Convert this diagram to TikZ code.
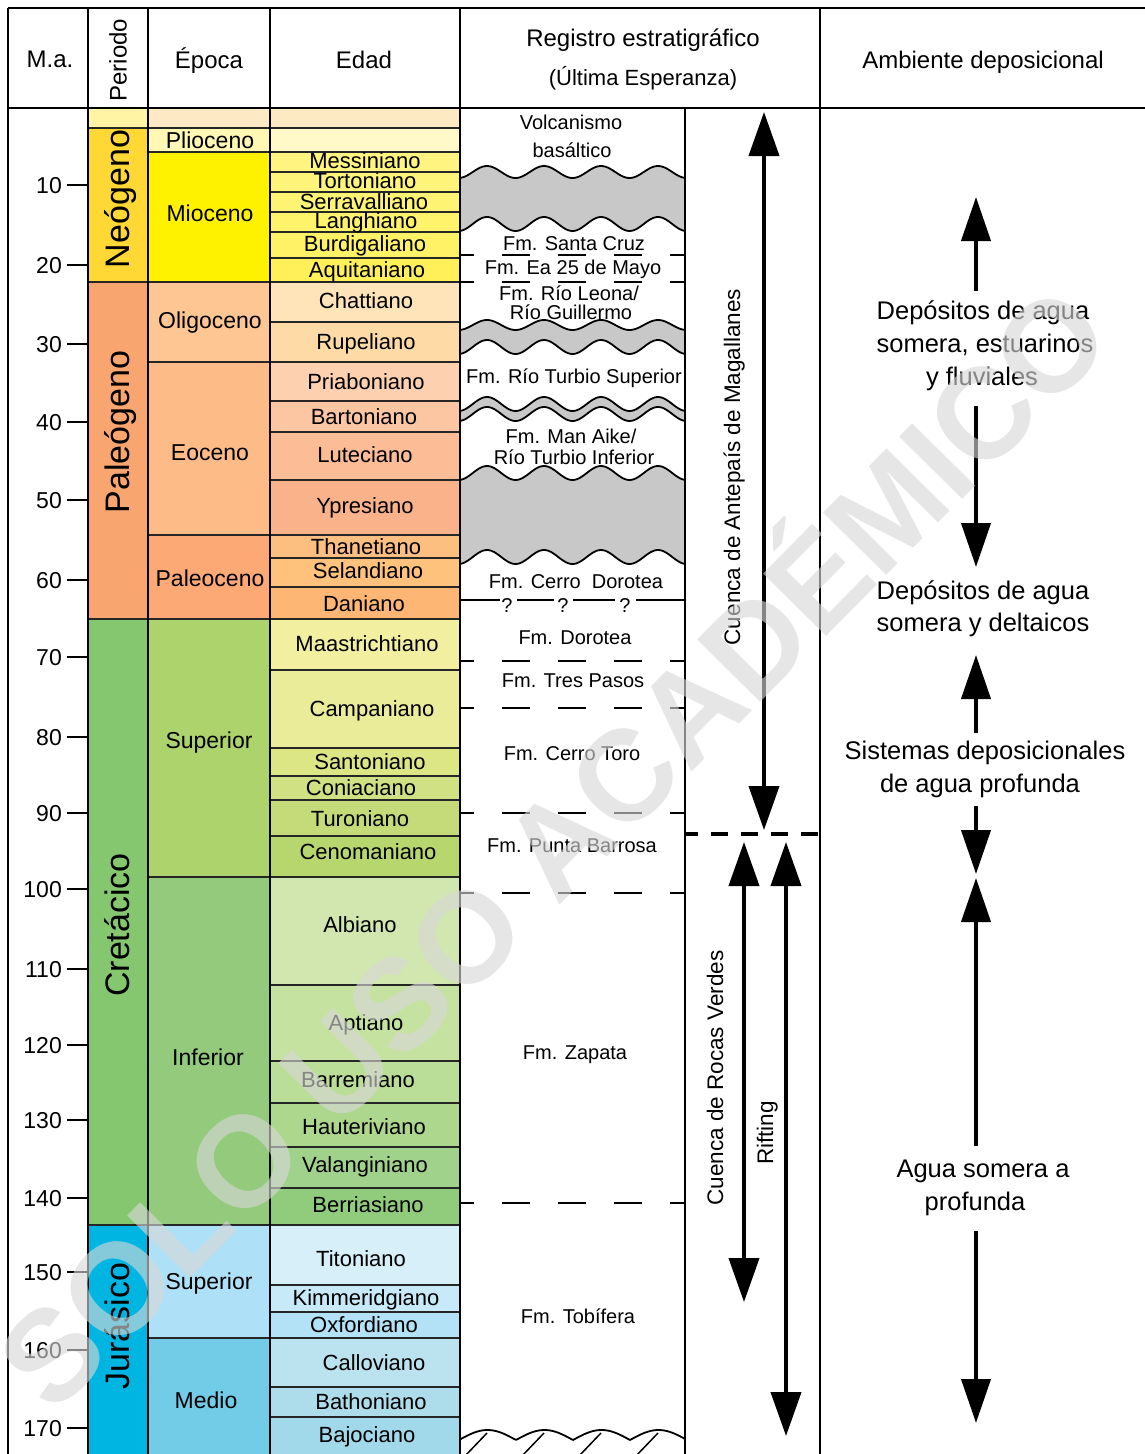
\documentclass[tikz,border=0pt]{standalone}
\usepackage{fontspec}
\setmainfont{Liberation Sans}
\usetikzlibrary{arrows.meta}
% period colours
\definecolor{pTop}{HTML}{FFF4A4}
\definecolor{pNeo}{HTML}{FFD836}
\definecolor{pPal}{HTML}{F8A56F}
\definecolor{pCre}{HTML}{84C76F}
\definecolor{pJur}{HTML}{00B5E2}
% epoch colours
\definecolor{eTop}{HTML}{FDEAC4}
\definecolor{ePlio}{HTML}{FFF8B5}
\definecolor{eMio}{HTML}{FFF200}
\definecolor{eOli}{HTML}{FDC693}
\definecolor{eEoc}{HTML}{FDBC87}
\definecolor{ePaleo}{HTML}{FCA976}
\definecolor{eCSup}{HTML}{ADD36C}
\definecolor{eCInf}{HTML}{93CA7B}
\definecolor{eJSup}{HTML}{AEE1F7}
\definecolor{eJMed}{HTML}{72CCE8}
% age colours
\definecolor{aTop}{HTML}{FDE9C2}
\definecolor{aPlio}{HTML}{FFF9C9}
\definecolor{aMes}{HTML}{FFF47F}
\definecolor{aTor}{HTML}{FFF47A}
\definecolor{aSer}{HTML}{FFF374}
\definecolor{aLan}{HTML}{FFF36B}
\definecolor{aBur}{HTML}{FFF266}
\definecolor{aAqu}{HTML}{FFF05A}
\definecolor{aCha}{HTML}{FEE4B8}
\definecolor{aRup}{HTML}{FEDAA7}
\definecolor{aPri}{HTML}{FDD0B0}
\definecolor{aBar}{HTML}{FCC6A2}
\definecolor{aLut}{HTML}{FCBC96}
\definecolor{aYpr}{HTML}{FAB28B}
\definecolor{aTha}{HTML}{FDBF80}
\definecolor{aSel}{HTML}{FEC27C}
\definecolor{aDan}{HTML}{FDB673}
\definecolor{aMaa}{HTML}{F2EFA0}
\definecolor{aCam}{HTML}{EBEC99}
\definecolor{aSan}{HTML}{DCE685}
\definecolor{aCon}{HTML}{D0E183}
\definecolor{aTur}{HTML}{C5DB7A}
\definecolor{aCen}{HTML}{B8D66E}
\definecolor{aAlb}{HTML}{D2E7AF}
\definecolor{aApt}{HTML}{C6E2A1}
\definecolor{aBrm}{HTML}{BADD97}
\definecolor{aHau}{HTML}{ADD78D}
\definecolor{aVal}{HTML}{A1D28B}
\definecolor{aBer}{HTML}{91CC7C}
\definecolor{aTit}{HTML}{D6EFF9}
\definecolor{aKim}{HTML}{C8EAF8}
\definecolor{aOxf}{HTML}{B3E2F6}
\definecolor{aCal}{HTML}{BAE3EF}
\definecolor{aBat}{HTML}{ADDDEB}
\definecolor{aBaj}{HTML}{A1D8EA}
\definecolor{hiatus}{HTML}{C8C8C8}
\definecolor{wmgray}{HTML}{D8D8D8}

\newcommand{\cellbox}[5]{\fill[#5] (#1,#2) rectangle (#3,#4);}

\begin{document}
\begin{tikzpicture}[x=1pt,y=-1pt,
  declare function={wv(\t)=cos((\t-487)*6.31579);},
  grid/.style={line width=1.8pt, draw=black!85},
  frame/.style={line width=1.8pt, draw=black},
  agetxt/.style={font=\fontsize{22}{24}\selectfont, text height=15.8pt, text depth=0pt, inner sep=0pt},
  epotxt/.style={font=\fontsize{23}{25}\selectfont, text height=16.5pt, text depth=0pt, inner sep=0pt},
  pertxt/.style={font=\fontsize{34}{36}\selectfont, text height=24.4pt, text depth=0pt, inner sep=0pt, rotate=90},
  hdtxt/.style={font=\fontsize{24}{26}\selectfont, text height=17.2pt, text depth=0pt, inner sep=0pt},
  hdsub/.style={font=\fontsize{22}{24}\selectfont, text height=15.8pt, text depth=0pt, inner sep=0pt},
  fmtxt/.style={font=\fontsize{20}{22}\selectfont, text height=14.3pt, text depth=0pt, inner sep=0pt},
  envtxt/.style={font=\fontsize{25.5}{28}\selectfont, text height=18.3pt, text depth=0pt, inner sep=0pt},
  basintxt/.style={font=\fontsize{22.5}{24}\selectfont, text height=16.1pt, text depth=0pt, inner sep=0pt, rotate=90},
  ticktxt/.style={font=\fontsize{23}{25}\selectfont, text height=16.5pt, text depth=0pt, inner sep=0pt, anchor=east},
  fmdash/.style={line width=1.8pt, dash pattern=on 28pt off 28pt, dash phase=14pt},
  waveline/.style={line width=1.8pt},
  dblarrow/.style={line width=4pt, {Triangle[width=30pt,length=44pt]}-{Triangle[width=30pt,length=44pt]}},
  envarrow/.style={line width=4pt, -{Triangle[width=29pt,length=44pt]}},
  wm/.style={rotate=45.3, font=\fontsize{129}{129}\selectfont\bfseries, text=wmgray, opacity=0.62, inner sep=0pt, text height=92pt, text depth=0pt}
]
\useasboundingbox (0,0) rectangle (1145,1454);
\fill[white] (0,0) rectangle (1145,1454);

% ---------- Periodo column fills
\cellbox{88}{108}{148}{128}{pTop}
\cellbox{88}{128}{148}{282}{pNeo}
\cellbox{88}{282}{148}{619}{pPal}
\cellbox{88}{619}{148}{1225}{pCre}
\cellbox{88}{1225}{148}{1454}{pJur}
% ---------- Epoca column fills
\cellbox{148}{108}{270}{128}{eTop}
\cellbox{148}{128}{270}{152}{ePlio}
\cellbox{148}{152}{270}{282}{eMio}
\cellbox{148}{282}{270}{362}{eOli}
\cellbox{148}{362}{270}{535}{eEoc}
\cellbox{148}{535}{270}{619}{ePaleo}
\cellbox{148}{619}{270}{877}{eCSup}
\cellbox{148}{877}{270}{1225}{eCInf}
\cellbox{148}{1225}{270}{1338}{eJSup}
\cellbox{148}{1338}{270}{1454}{eJMed}
% ---------- Edad column fills
\cellbox{270}{108}{460}{128}{aTop}
\cellbox{270}{128}{460}{152}{aPlio}
\cellbox{270}{152}{460}{172}{aMes}
\cellbox{270}{172}{460}{192}{aTor}
\cellbox{270}{192}{460}{212}{aSer}
\cellbox{270}{212}{460}{232}{aLan}
\cellbox{270}{232}{460}{258}{aBur}
\cellbox{270}{258}{460}{282}{aAqu}
\cellbox{270}{282}{460}{322}{aCha}
\cellbox{270}{322}{460}{362}{aRup}
\cellbox{270}{362}{460}{401}{aPri}
\cellbox{270}{401}{460}{432}{aBar}
\cellbox{270}{432}{460}{480}{aLut}
\cellbox{270}{480}{460}{535}{aYpr}
\cellbox{270}{535}{460}{558}{aTha}
\cellbox{270}{558}{460}{587}{aSel}
\cellbox{270}{587}{460}{619}{aDan}
\cellbox{270}{619}{460}{670}{aMaa}
\cellbox{270}{670}{460}{748}{aCam}
\cellbox{270}{748}{460}{776}{aSan}
\cellbox{270}{776}{460}{800}{aCon}
\cellbox{270}{800}{460}{836}{aTur}
\cellbox{270}{836}{460}{877}{aCen}
\cellbox{270}{877}{460}{985}{aAlb}
\cellbox{270}{985}{460}{1061}{aApt}
\cellbox{270}{1061}{460}{1103}{aBrm}
\cellbox{270}{1103}{460}{1147}{aHau}
\cellbox{270}{1147}{460}{1188}{aVal}
\cellbox{270}{1188}{460}{1225}{aBer}
\cellbox{270}{1225}{460}{1285}{aTit}
\cellbox{270}{1285}{460}{1312}{aKim}
\cellbox{270}{1312}{460}{1338}{aOxf}
\cellbox{270}{1338}{460}{1387}{aCal}
\cellbox{270}{1387}{460}{1417}{aBat}
\cellbox{270}{1417}{460}{1454}{aBaj}

% ---------- hiatus (grey) areas in the stratigraphic record
\fill[hiatus] plot[domain=460:685,samples=120] (\x,{172-6*wv(\x)}) -- plot[domain=685:460,samples=120] (\x,{224-7*wv(\x)}) -- cycle;
\fill[hiatus] plot[domain=460:685,samples=120] (\x,{325-5*wv(\x)}) -- plot[domain=685:460,samples=120] (\x,{347-7*wv(\x)}) -- cycle;
\fill[hiatus] plot[domain=460:685,samples=120] (\x,{404-7*wv(\x)}) -- plot[domain=685:460,samples=120] (\x,{414-7*wv(\x)}) -- cycle;
\fill[hiatus] plot[domain=460:685,samples=120] (\x,{473-7*wv(\x)}) -- plot[domain=685:460,samples=120] (\x,{557-7*wv(\x)}) -- cycle;
\foreach \yy/\aa in {172/6,224/7,325/5,347/7,404/7,414/7,473/7,557/7}
  \draw[waveline] plot[domain=460:685,samples=120] (\x,{\yy-\aa*wv(\x)});
% bottom unconformity with hatching
\begin{scope}
\clip (460,1400) rectangle (685,1454);
\draw[waveline] plot[domain=460:685,samples=160] (\x,{1440-10*abs(sin((\x-459)*3.15789))});
\foreach \k in {0,1,2,3} \draw[line width=1.5pt] ({487+57*\k},1433) -- ({487+57*\k-22},1456);
\end{scope}

% formation boundaries
\foreach \yy in {255,282,661,708,813,893,1203} \draw[fmdash] (460,\yy) -- (685,\yy);
\draw[line width=1.5pt] (460,600) -- (500,600) (517,600) -- (554,600) (573,600) -- (615,600) (636,600) -- (685,600);

% ---------- grid lines
\foreach \yy in {128,282,619,1225} \draw[grid] (88,\yy) -- (460,\yy);
\foreach \yy in {152,362,535,877,1338} \draw[grid] (148,\yy) -- (460,\yy);
\foreach \yy in {172,192,212,232,258,322,401,432,480,558,587,670,748,776,800,836,985,1061,1103,1147,1188,1285,1312,1387,1417}
  \draw[grid] (270,\yy) -- (460,\yy);
% ticks
\foreach \yy in {185,265,344,422,500,580,657,737,813,889,969,1045,1120,1198,1272,1350,1428}
  \draw[line width=2pt] (67,\yy) -- (88,\yy);
% frame
\draw[frame] (8,8) -- (1145,8);
\draw[frame] (8,108) -- (1145,108);
\foreach \xx in {8,88,148,270,460,820} \draw[frame] (\xx,8) -- (\xx,1454);
\draw[frame] (685,108) -- (685,1454);
\draw[line width=4pt, dash pattern=on 17pt off 13pt, dash phase=4pt] (685,834) -- (820,834);

% ---------- header texts
\node[hdtxt] (hMa) at (50,59) {M.a.};
\node[hdtxt, rotate=90] (hPer) at (118,60) {Periodo};
\node[hdtxt] (hEpo) at (209,60) {Época};
\node[hdtxt] (hEda) at (364,60) {Edad};
\node[hdtxt] (hReg) at (643,38) {Registro estratigráfico};
\node[hdsub] (hUlt) at (643,78) {(Última Esperanza)};
\node[hdtxt] (hAmb) at (983,60) {Ambiente deposicional};

% ---------- ticks labels
\node[ticktxt] (m10) at (62,185) {10};
\node[ticktxt] (m20) at (62,265) {20};
\node[ticktxt] (m30) at (62,344) {30};
\node[ticktxt] (m40) at (62,422) {40};
\node[ticktxt] (m50) at (62,500) {50};
\node[ticktxt] (m60) at (62,580) {60};
\node[ticktxt] (m70) at (62,657) {70};
\node[ticktxt] (m80) at (62,737) {80};
\node[ticktxt] (m90) at (62,813) {90};
\node[ticktxt] (m100) at (62,889) {100};
\node[ticktxt] (m110) at (62,969) {110};
\node[ticktxt] (m120) at (62,1045) {120};
\node[ticktxt] (m130) at (62,1120) {130};
\node[ticktxt] (m140) at (62,1198) {140};
\node[ticktxt] (m150) at (62,1272) {150};
\node[ticktxt] (m160) at (62,1350) {160};
\node[ticktxt] (m170) at (62,1428) {170};

% ---------- periods
\node[pertxt] (pN) at (117,199) {Neógeno};
\node[pertxt] (pP) at (117,432) {Paleógeno};
\node[pertxt] (pC) at (117,925) {Cretácico};
\node[pertxt] (pJ) at (117,1326) {Jurásico};

% ---------- epochs
\node[epotxt] (ePl) at (210,140) {Plioceno};
\node[epotxt] (eMi) at (210,213) {Mioceno};
\node[epotxt] (eOl) at (210,320) {Oligoceno};
\node[epotxt] (eEo) at (210,452) {Eoceno};
\node[epotxt] (ePa) at (210,578) {Paleoceno};
\node[epotxt] (eSu) at (209,740) {Superior};
\node[epotxt] (eIn) at (208,1057) {Inferior};
\node[epotxt] (eSJ) at (209,1281) {Superior};
\node[epotxt] (eMe) at (206,1400) {Medio};

% ---------- ages
\node[agetxt] (aMes) at (365,161) {Messiniano};
\node[agetxt] (aTor) at (365,181) {Tortoniano};
\node[agetxt] (aSer) at (364,202) {Serravalliano};
\node[agetxt] (aLan) at (366,221) {Langhiano};
\node[agetxt] (aBur) at (365,244) {Burdigaliano};
\node[agetxt] (aAqu) at (367,270) {Aquitaniano};
\node[agetxt] (aCha) at (366,301) {Chattiano};
\node[agetxt] (aRup) at (366,342) {Rupeliano};
\node[agetxt] (aPri) at (366,382) {Priaboniano};
\node[agetxt] (aBar) at (364,417) {Bartoniano};
\node[agetxt] (aLut) at (365,455) {Luteciano};
\node[agetxt] (aYpr) at (365,506) {Ypresiano};
\node[agetxt] (aTha) at (366,547) {Thanetiano};
\node[agetxt] (aSel) at (368,571) {Selandiano};
\node[agetxt] (aDan) at (364,604) {Daniano};
\node[agetxt] (aMaa) at (367,644) {Maastrichtiano};
\node[agetxt] (aCam) at (372,709) {Campaniano};
\node[agetxt] (aSan) at (370,762) {Santoniano};
\node[agetxt] (aCon) at (361,788) {Coniaciano};
\node[agetxt] (aTur) at (360,819) {Turoniano};
\node[agetxt] (aCen) at (368,852) {Cenomaniano};
\node[agetxt] (aAlb) at (360,925) {Albiano};
\node[agetxt] (aApt) at (366,1023) {Aptiano};
\node[agetxt] (aBrm) at (358,1080) {Barremiano};
\node[agetxt] (aHau) at (364,1127) {Hauteriviano};
\node[agetxt] (aVal) at (365,1165) {Valanginiano};
\node[agetxt] (aBer) at (368,1205) {Berriasiano};
\node[agetxt] (aTit) at (361,1259) {Titoniano};
\node[agetxt] (aKim) at (366,1298) {Kimmeridgiano};
\node[agetxt] (aOxf) at (364,1325) {Oxfordiano};
\node[agetxt] (aCal) at (374,1363) {Calloviano};
\node[agetxt] (aBat) at (371,1402) {Bathoniano};
\node[agetxt] (aBaj) at (367,1435) {Bajociano};

% ---------- formations
\node[fmtxt] (fVol) at (571,122) {Volcanismo};
\node[fmtxt] (fBas) at (572,150) {basáltico};
\node[fmtxt] (fSC) at (574,243) {Fm. Santa Cruz};
\node[fmtxt] (fEa) at (573,267) {Fm. Ea 25 de Mayo};
\node[fmtxt] (fRL) at (569,293) {Fm. Río Leona/};
\node[fmtxt] (fRG) at (571,312) {Río Guillermo};
\node[fmtxt] (fRTS) at (574,376) {Fm. Río Turbio Superior};
\node[fmtxt] (fMA) at (571,436) {Fm. Man Aike/};
\node[fmtxt] (fRTI) at (574,457) {Río Turbio Inferior};
\node[fmtxt] (fCD) at (576,581) {Fm. Cerro\ \ Dorotea};
\node[fmtxt] (q1) at (507,605) {?};
\node[fmtxt] (q2) at (563,605) {?};
\node[fmtxt] (q3) at (625,605) {?};
\node[fmtxt] (fDo) at (575,637) {Fm. Dorotea};
\node[fmtxt] (fTP) at (573,680) {Fm. Tres Pasos};
\node[fmtxt] (fCT) at (572,753) {Fm. Cerro Toro};
\node[fmtxt] (fPB) at (572,845) {Fm. Punta Barrosa};
\node[fmtxt] (fZa) at (575,1052) {Fm. Zapata};
\node[fmtxt] (fTo) at (578,1316) {Fm. Tobífera};

% ---------- basin arrows
\coordinate (magTop) at (764,112);
\coordinate (magBot) at (764,830);
\draw[dblarrow] (magTop) -- (magBot);
\node[basintxt] (bMag) at (732,467) {Cuenca de Antepaís de Magallanes};
\coordinate (rvTop) at (744,842);
\coordinate (rvBot) at (744,1302);
\draw[dblarrow] (rvTop) -- (rvBot);
\node[basintxt] (bRV) at (715,1078) {Cuenca de Rocas Verdes};
\coordinate (rfTop) at (786,842);
\coordinate (rfBot) at (786,1436);
\draw[dblarrow] (rfTop) -- (rfBot);
\node[basintxt] (bRf) at (765,1133) {Rifting};

% ---------- environment column
\node[envtxt] (en1a) at (983,310) {Depósitos de agua};
\node[envtxt] (en1b) at (985,343) {somera, estuarinos};
\node[envtxt] (en1c) at (982,376) {y fluviales};
\node[envtxt] (en2a) at (983,590) {Depósitos de agua};
\node[envtxt] (en2b) at (983,622) {somera y deltaicos};
\node[envtxt] (en3a) at (985,750) {Sistemas deposicionales};
\node[envtxt] (en3b) at (980,783) {de agua profunda};
\node[envtxt] (en4a) at (983,1168) {Agua somera a};
\node[envtxt] (en4b) at (975,1201) {profunda};
\coordinate (ar1s) at (976,291);
\coordinate (ar1e) at (976,197);
\coordinate (ar2s) at (976,406);
\coordinate (ar2e) at (976,567);
\coordinate (ar3s) at (976,733);
\coordinate (ar3e) at (976,655);
\coordinate (ar4s) at (976,806);
\coordinate (ar4e) at (976,874);
\coordinate (ar5s) at (976,1146);
\coordinate (ar5e) at (976,878);
\coordinate (ar6s) at (976,1231);
\coordinate (ar6e) at (976,1423);
\draw[envarrow] (ar1s) -- (ar1e);
\draw[envarrow] (ar2s) -- (ar2e);
\draw[envarrow] (ar3s) -- (ar3e);
\draw[envarrow] (ar4s) -- (ar4e);
\draw[envarrow] (ar5s) -- (ar5e);
\draw[envarrow] (ar6s) -- (ar6e);

% ---------- watermark
\node[wm] (wmark) at (553,847) {SOLO USO ACADÉMICO};
\end{tikzpicture}
\end{document}
